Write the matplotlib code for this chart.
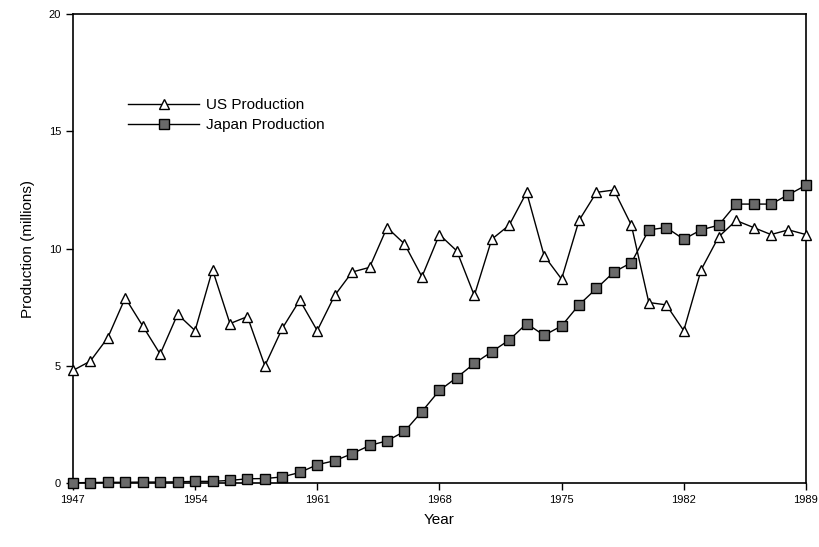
import matplotlib.pyplot as plt

plt.rcParams['font.family'] = ['Liberation Sans', 'DejaVu Sans']

years = list(range(1947, 1990))

# US production, millions of vehicles
us_production = [4.8, 5.2, 6.2, 7.9, 6.7, 5.5, 7.2, 6.5, 9.1, 6.8,
                 7.1, 5.0, 6.6, 7.8, 6.5, 8.0, 9.0, 9.2, 10.9, 10.2,
                 8.8, 10.6, 9.9, 8.0, 10.4, 11.0, 12.4, 9.7, 8.7, 11.2,
                 12.4, 12.5, 11.0, 7.7, 7.6, 6.5, 9.1, 10.5, 11.2, 10.9,
                 10.6, 10.8, 10.6]

# Japan production, millions of vehicles
japan_production = [0.01, 0.02, 0.03, 0.03, 0.04, 0.04, 0.05, 0.07, 0.07, 0.11,
                    0.18, 0.19, 0.26, 0.45, 0.78, 0.95, 1.25, 1.6, 1.8, 2.2,
                    3.05, 3.95, 4.5, 5.1, 5.6, 6.1, 6.8, 6.3, 6.7, 7.6,
                    8.3, 9.0, 9.4, 10.8, 10.9, 10.4, 10.8, 11.0, 11.9, 11.9,
                    11.9, 12.3, 12.7]

fig = plt.figure(figsize=(8.19, 5.47), dpi=100)
ax = fig.add_axes([0.089, 0.117, 0.895, 0.857])

ax.plot(years, us_production, color='black', linewidth=1.0, marker='^',
        markersize=7, markerfacecolor='white', markeredgecolor='black',
        markeredgewidth=1.0, label='US Production', clip_on=False, zorder=3)
ax.plot(years, japan_production, color='black', linewidth=1.0, marker='s',
        markersize=6.5, markerfacecolor='#6a6a6a', markeredgecolor='black',
        markeredgewidth=1.0, label='Japan Production', clip_on=False, zorder=3)

ax.set_xlim(1947, 1989)
ax.set_ylim(0, 20)
ax.set_xticks(range(1947, 1990, 7))
ax.set_yticks(range(0, 21, 5))
ax.tick_params(direction='out', length=5, width=1, labelsize=8)

ax.set_xlabel('Year', fontsize=11, labelpad=6)
ax.set_ylabel('Production (millions)', fontsize=11, labelpad=10)

for s in ax.spines.values():
    s.set_linewidth(1.2)

ax.legend(loc='upper left', bbox_to_anchor=(0.057, 0.85), frameon=False,
          fontsize=11, handlelength=4.6, labelspacing=0.4, handletextpad=0.5)

fig.savefig('out.png', dpi=100)
